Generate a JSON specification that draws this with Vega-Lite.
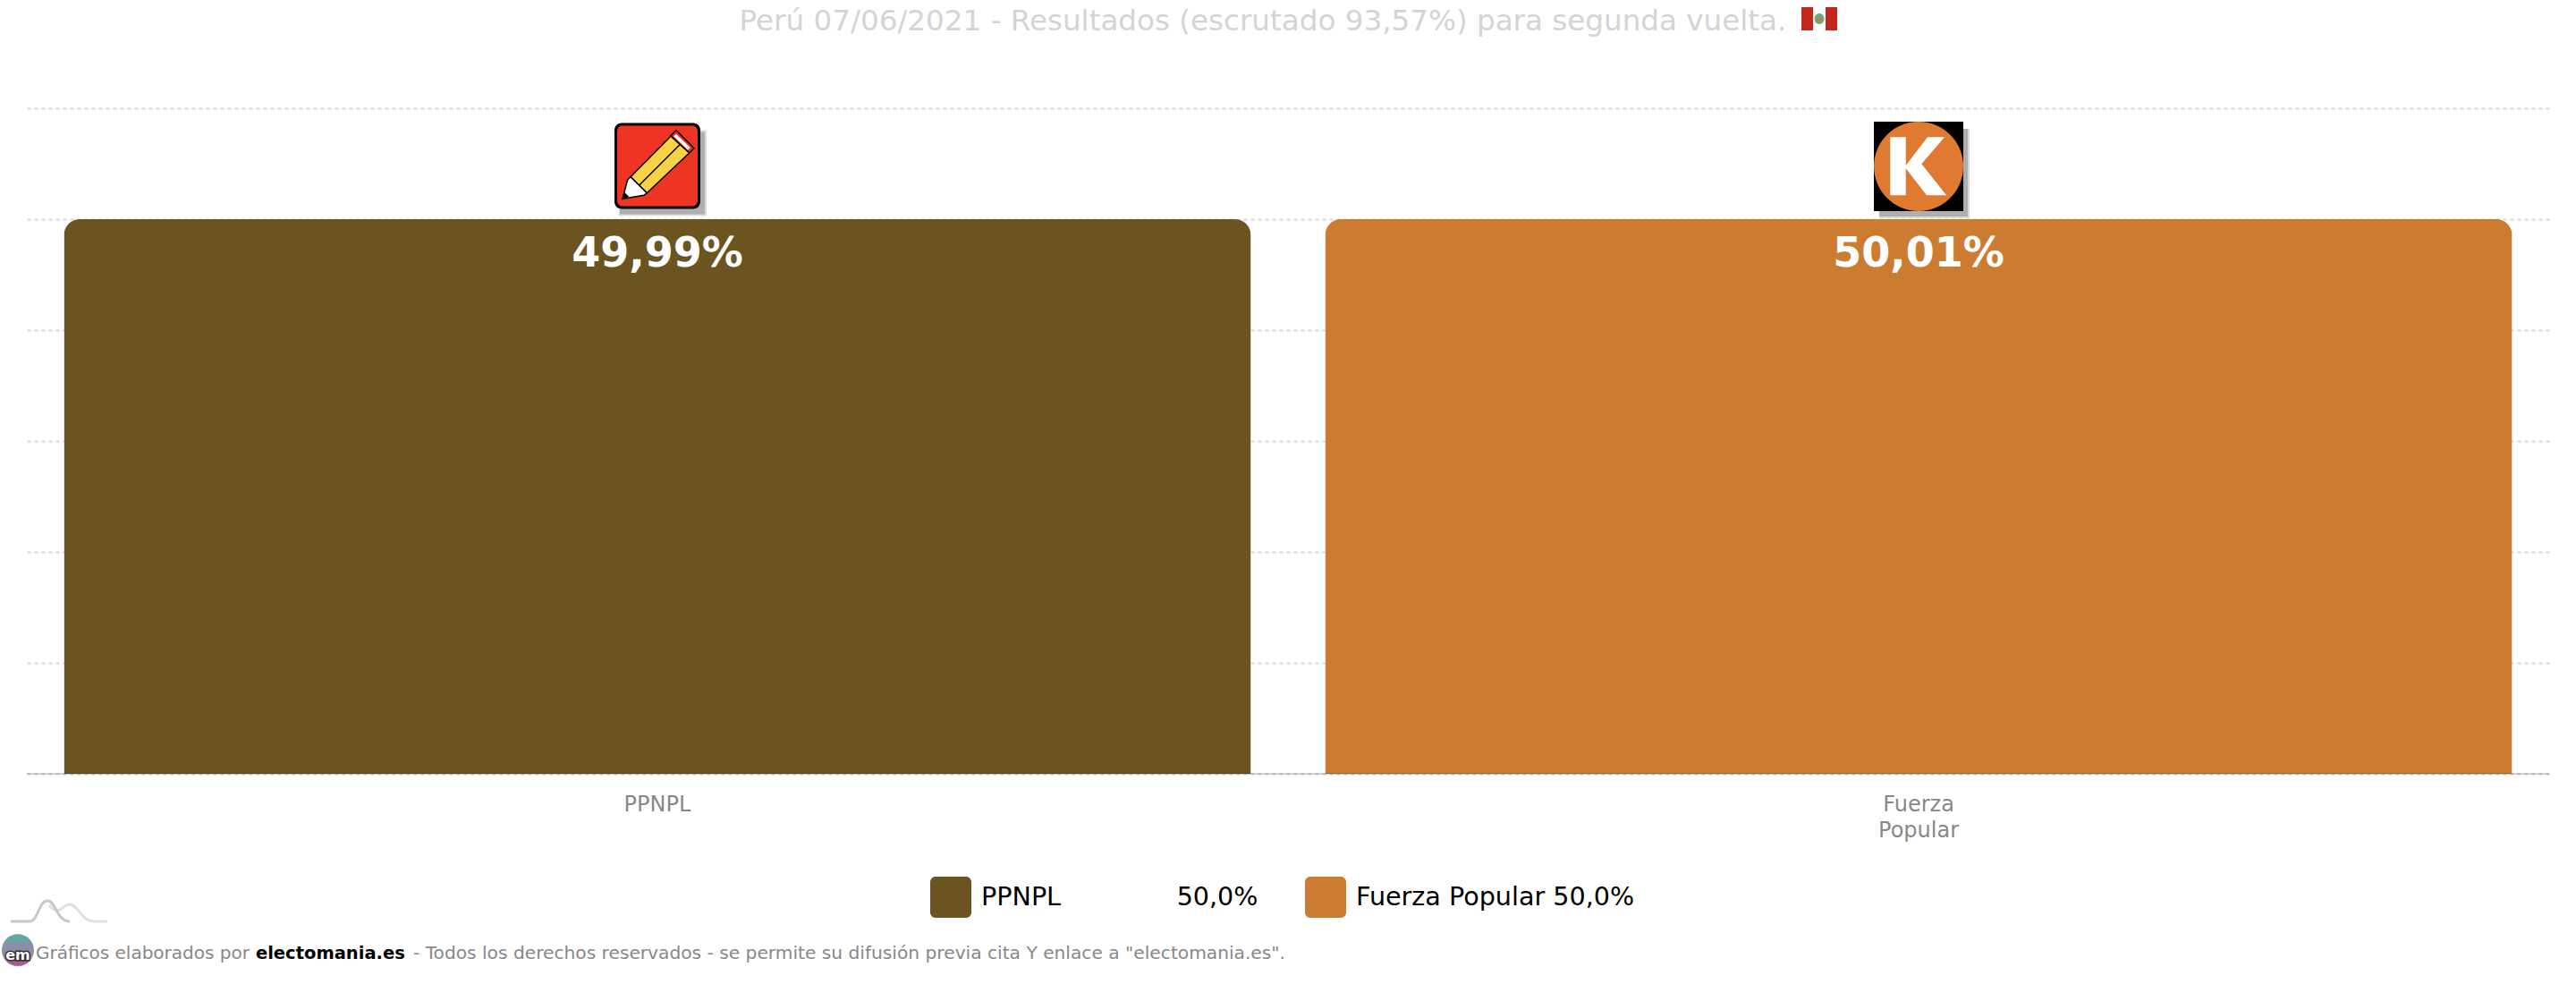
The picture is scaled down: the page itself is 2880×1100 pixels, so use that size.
{
  "$schema": "https://vega.github.io/schema/vega-lite/v5.json",
  "width": 2820,
  "height": 744,
  "autosize": {"type": "none"},
  "padding": {"left": 30, "top": 121, "right": 30, "bottom": 235},
  "background": "#ffffff",
  "config": {
    "font": "DejaVu Sans",
    "view": {"stroke": "transparent"}
  },
  "title": {
    "text": "Perú 07/06/2021 - Resultados (escrutado 93,57%) para segunda vuelta.",
    "anchor": "middle",
    "dx": -28,
    "offset": -33,
    "fontSize": 32.6,
    "fontWeight": "normal",
    "color": "#d4d4d4"
  },
  "datasets": {
    "votos": [
      {"partido": "PPNPL", "valor": 49.99, "etiqueta": "49,99%", "leyenda": "PPNPL\u00a0\u00a0\u00a0\u00a0\u00a0\u00a0\u00a0\u00a0\u00a0\u00a0\u00a0\u00a0\u00a0\u2009\u200950,0%"},
      {"partido": "Fuerza Popular", "valor": 50.01, "etiqueta": "50,01%", "leyenda": "Fuerza Popular 50,0%"}
    ],
    "lapiz": [{"partido": "PPNPL", "valor": 54.8}],
    "k": [{"partido": "Fuerza Popular", "valor": 54.76}],
    "bandera": [{"partido": "Fuerza Popular", "valor": 68.06}],
    "montana": [{"partido": "PPNPL", "valor": -13.3}],
    "em": [{"partido": "PPNPL", "valor": -15.9}],
    "em_texto": [{"partido": "PPNPL", "valor": -16.35, "texto": "em"}],
    "cero": [{"valor": 0}]
  },
  "data": {"name": "votos"},
  "encoding": {
    "x": {
      "field": "partido",
      "type": "nominal",
      "title": null,
      "sort": null,
      "scale": {"domain": ["PPNPL", "Fuerza Popular"], "paddingInner": 0.0589, "paddingOuter": 0.0294},
      "axis": {
        "domain": false,
        "ticks": false,
        "labelAngle": 0,
        "labelColor": "#888888",
        "labelFontSize": 24,
        "labelPadding": 22,
        "labelLineHeight": 29,
        "labelExpr": "split(datum.label, ' ')"
      }
    },
    "y": {
      "field": "valor",
      "type": "quantitative",
      "title": null,
      "scale": {"domain": [0, 60], "nice": false},
      "axis": {
        "values": [0, 10, 20, 30, 40, 50, 60],
        "domain": false,
        "ticks": false,
        "labels": false,
        "grid": true,
        "gridColor": "#d8d8d8",
        "gridDash": [4, 4],
        "gridWidth": 2
      }
    }
  },
  "layer": [
    {
      "mark": {"type": "bar", "cornerRadiusTopLeft": 18, "cornerRadiusTopRight": 18},
      "encoding": {
        "color": {
          "field": "leyenda",
          "type": "nominal",
          "sort": null,
          "scale": {"range": ["#6b541f", "#cc7c30"]},
          "legend": {
            "title": null,
            "orient": "none",
            "legendX": 1010,
            "legendY": 859,
            "direction": "horizontal",
            "columns": 2,
            "columnPadding": 51,
            "labelFontSize": 28.6,
            "labelColor": "#000000",
            "labelLimit": 800,
            "labelOffset": 11,
            "symbolSize": 2116,
            "symbolStrokeWidth": 0,
            "symbolOpacity": 1,
            "symbolType": "M-0.74,-1 H0.74 A0.26,0.26 0 0 1 1,-0.74 V0.74 A0.26,0.26 0 0 1 0.74,1 H-0.74 A0.26,0.26 0 0 1 -1,0.74 V-0.74 A0.26,0.26 0 0 1 -0.74,-1 Z"
          }
        }
      }
    },
    {
      "data": {"name": "cero"},
      "mark": {"type": "rule", "color": "#000000", "opacity": 0.18, "strokeWidth": 2},
      "encoding": {"x": null}
    },
    {
      "mark": {"type": "text", "color": "#ffffff", "fontSize": 46, "fontWeight": "bold", "baseline": "middle", "dy": 39},
      "encoding": {"text": {"field": "etiqueta", "type": "nominal"}}
    },

    {"data": {"name": "lapiz"}, "mark": {"type": "point", "filled": true, "size": 4, "opacity": 0.14, "color": "#000000", "shape": "M-43,-40 H55 V56 H-43 Z"}},
    {"data": {"name": "lapiz"}, "mark": {"type": "point", "filled": true, "size": 4, "opacity": 0.2, "color": "#000000", "shape": "M-42,-38 H53 V54 H-42 Z"}},
    {"data": {"name": "lapiz"}, "mark": {"type": "point", "filled": true, "size": 4, "opacity": 1, "color": "#000000", "shape": "M-40,-48 H40 A8,8 0 0 1 48,-40 V40 A8,8 0 0 1 40,48 H-40 A8,8 0 0 1 -48,40 V-40 A8,8 0 0 1 -40,-48 Z"}},
    {"data": {"name": "lapiz"}, "mark": {"type": "point", "filled": true, "size": 4, "opacity": 1, "color": "#ee3524", "shape": "M-39,-45 H39 A6,6 0 0 1 45,-39 V39 A6,6 0 0 1 39,45 H-39 A6,6 0 0 1 -45,39 V-39 A6,6 0 0 1 -39,-45 Z"}},
    {"data": {"name": "lapiz"}, "mark": {"type": "point", "filled": true, "size": 4, "opacity": 1, "color": "#ee3524", "stroke": "#000000", "strokeWidth": 1.5, "shape": "M21,-39.8 L41,-19.8 L35.7,-14.5 L15,-33.8 Z"}},
    {"data": {"name": "lapiz"}, "mark": {"type": "point", "filled": true, "size": 4, "opacity": 1, "color": "#ffffff", "shape": "M21,-35.5 L36.7,-20.5 L34,-17.8 L18.3,-33.2 Z"}},
    {"data": {"name": "lapiz"}, "mark": {"type": "point", "filled": true, "size": 4, "opacity": 1, "color": "#f9d144", "stroke": "#000000", "strokeWidth": 1.5, "shape": "M15,-33.2 L35.7,-14.5 L-11.7,30.2 L-30,12.2 Z"}},
    {"data": {"name": "lapiz"}, "mark": {"type": "point", "filled": false, "size": 4, "opacity": 1, "color": "#000000", "strokeWidth": 1.5, "shape": "M25,-23.8 L-20,21.2"}},
    {"data": {"name": "lapiz"}, "mark": {"type": "point", "filled": true, "size": 4, "opacity": 1, "color": "#ffffff", "stroke": "#000000", "strokeWidth": 1.5, "shape": "M-33.3,15.5 L-30,12.2 L-11.7,30.2 L-15,32.8 L-39,36.8 Z"}},
    {"data": {"name": "lapiz"}, "mark": {"type": "point", "filled": true, "size": 4, "opacity": 1, "color": "#000000", "shape": "M-39,36.8 L-36.7,29.5 L-31.7,34.5 Z"}},

    {"data": {"name": "k"}, "mark": {"type": "point", "filled": true, "size": 4, "opacity": 0.14, "color": "#000000", "shape": "M-44,-42 H57 V58 H-44 Z"}},
    {"data": {"name": "k"}, "mark": {"type": "point", "filled": true, "size": 4, "opacity": 0.2, "color": "#000000", "shape": "M-44,-42 H55 V56 H-44 Z"}},
    {"data": {"name": "k"}, "mark": {"type": "point", "filled": true, "size": 4, "opacity": 1, "color": "#000000", "shape": "M-50,-50 H50 V50 H-50 Z"}},
    {"data": {"name": "k"}, "mark": {"type": "point", "filled": true, "size": 4, "opacity": 1, "color": "#df7a30", "shape": "M-50,0 A50,50 0 1 1 50,0 A50,50 0 1 1 -50,0 Z"}},
    {"data": {"name": "k"}, "mark": {"type": "point", "filled": true, "size": 4, "opacity": 1, "color": "#ffffff", "shape": "M-31.7,-32.7 L-14.3,-32.7 L-14.3,-1 L10,-32.7 L29,-32.7 L3.3,-2.7 L31,32.3 L9,32.3 L-14.3,2.3 L-14.3,32.3 L-31.7,32.3 Z"}},

    {"data": {"name": "bandera"}, "mark": {"type": "point", "filled": true, "size": 4, "opacity": 1, "color": "#c1271b", "shape": "M-131,-13 H-118 V13 H-131 Z M-104,-13 H-91 V13 H-104 Z"}},
    {"data": {"name": "bandera"}, "mark": {"type": "point", "filled": true, "size": 4, "opacity": 1, "color": "#6fa877", "shape": "M-116.5,0 A5.5,6 0 1 1 -105.5,0 A5.5,6 0 1 1 -116.5,0 Z"}},
    {"data": {"name": "bandera"}, "mark": {"type": "point", "filled": true, "size": 4, "opacity": 1, "color": "#c8793a", "shape": "M-114,0 H-108 V3 H-114 Z"}},

    {"data": {"name": "montana"}, "mark": {"type": "point", "filled": false, "size": 4, "opacity": 1, "color": "#e0e0e0", "strokeWidth": 3, "shape": "M-680,-18 C-675,-12 -670,-10 -665,-15 C-660,-20 -655,-20 -650,-15 C-645,-10 -640,0 -630,0 L-615,0"}},
    {"data": {"name": "montana"}, "mark": {"type": "point", "filled": false, "size": 4, "opacity": 1, "color": "#c8c8c8", "strokeWidth": 3, "shape": "M-723,0 L-702,0 C-692,0 -692,-23 -682,-23 C-672,-23 -672,0 -657,0"}},

    {"data": {"name": "em"}, "mark": {"type": "point", "filled": true, "size": 4, "opacity": 1, "color": "#8a8fa8", "shape": "M-733,0 A18,18 0 1 1 -697,0 A18,18 0 1 1 -733,0 Z"}},
    {"data": {"name": "em"}, "mark": {"type": "point", "filled": true, "size": 4, "opacity": 0.75, "color": "#4fb59a", "shape": "M-730,-9 A18,18 0 0 1 -700,-9 Z"}},
    {"data": {"name": "em"}, "mark": {"type": "point", "filled": true, "size": 4, "opacity": 0.75, "color": "#b5478a", "shape": "M-730,9 A18,18 0 0 0 -700,9 Z"}},
    {"data": {"name": "em_texto"}, "mark": {"type": "text", "align": "center", "dx": -715, "fontSize": 16, "fontWeight": "bold", "color": "#333333", "stroke": "#333333", "strokeWidth": 3}, "encoding": {"text": {"field": "texto", "type": "nominal"}}},
    {"data": {"name": "em_texto"}, "mark": {"type": "text", "align": "center", "dx": -715, "fontSize": 16, "fontWeight": "bold", "color": "#ffffff"}, "encoding": {"text": {"field": "texto", "type": "nominal"}}},

    {"data": {"values": [{"partido": "PPNPL", "valor": -16.2, "texto": "Gráficos elaborados por"}]}, "mark": {"type": "text", "align": "left", "dx": -695, "fontSize": 20, "color": "#888888"}, "encoding": {"text": {"field": "texto", "type": "nominal"}}},
    {"data": {"values": [{"partido": "PPNPL", "valor": -16.2, "texto": "electomania.es"}]}, "mark": {"type": "text", "align": "left", "dx": -449, "fontSize": 19.5, "fontWeight": "bold", "color": "#000000"}, "encoding": {"text": {"field": "texto", "type": "nominal"}}},
    {"data": {"values": [{"partido": "PPNPL", "valor": -16.2, "texto": "- Todos los derechos reservados - se permite su difusión previa cita Y enlace a \"electomania.es\"."}]}, "mark": {"type": "text", "align": "left", "dx": -273, "fontSize": 20.2, "color": "#888888"}, "encoding": {"text": {"field": "texto", "type": "nominal"}}}
  ]
}
